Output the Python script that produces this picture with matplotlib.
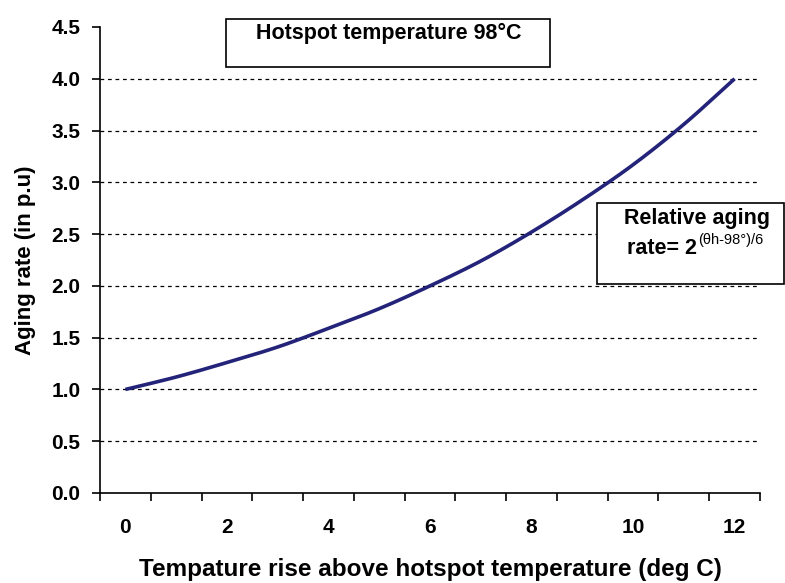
import matplotlib
matplotlib.use("Agg")
import matplotlib.pyplot as plt
from matplotlib.patches import Rectangle
import numpy as np

# Data
temp_rise = [0, 1, 2, 3, 4, 5, 6, 7, 8, 9, 10, 11, 12]
aging_rate = [1.0, 1.12, 1.26, 1.41, 1.59, 1.78, 2.0, 2.24, 2.52, 2.83, 3.17, 3.56, 4.0]
x_tick_labels = ["0", "2", "4", "6", "8", "10", "12"]
y_ticks = [0.0, 0.5, 1.0, 1.5, 2.0, 2.5, 3.0, 3.5, 4.0, 4.5]

plt.rcParams['font.family'] = ['Liberation Sans', 'DejaVu Sans']
plt.rcParams['font.weight'] = 'bold'


def catmull_rom(xs, ys, n=20):
    """Smooth rendering of the line through the given points (Excel-style smoothing)."""
    xs = np.asarray(xs, float)
    ys = np.asarray(ys, float)
    px = np.concatenate([[2 * xs[0] - xs[1]], xs, [2 * xs[-1] - xs[-2]]])
    py = np.concatenate([[2 * ys[0] - ys[1]], ys, [2 * ys[-1] - ys[-2]]])
    ox, oy = [], []
    t = np.linspace(0, 1, n, endpoint=False)
    for i in range(1, len(px) - 2):
        for P, out in ((px, ox), (py, oy)):
            p0, p1, p2, p3 = P[i - 1], P[i], P[i + 1], P[i + 2]
            out.extend(0.5 * ((2 * p1) + (-p0 + p2) * t + (2 * p0 - 5 * p1 + 4 * p2 - p3) * t ** 2
                              + (-p0 + 3 * p1 - 3 * p2 + p3) * t ** 3))
    ox.append(xs[-1])
    oy.append(ys[-1])
    return np.array(ox), np.array(oy)


fig = plt.figure(figsize=(7.85, 5.83), dpi=100)
ax = fig.add_axes([100/785, 1-493/583, (760-100)/785, (493-27)/583])

sx, sy = catmull_rom(temp_rise, aging_rate)
ax.plot(sx, sy, color='#23237a', lw=2.6, solid_capstyle='butt')

ax.set_xlim(-0.5, 12.5)
ax.set_ylim(0, 4.5)

# gridlines
for y in y_ticks[1:-1]:
    ax.axhline(y, color='black', lw=0.9, ls=(0, (3, 3)), zorder=0)

ax.spines['top'].set_visible(False)
ax.spines['right'].set_visible(False)
ax.spines['left'].set_linewidth(1.2)
ax.spines['bottom'].set_linewidth(1.2)

ax.set_yticks(y_ticks)
ax.set_yticklabels([f"{v:.1f}" for v in y_ticks], fontsize=15, fontweight='bold')
ax.tick_params(axis='y', direction='out', length=6, width=1.2, pad=8)

# category boundaries as major ticks, labels as minor ticks
ax.set_xticks(np.arange(-0.5, 13, 1.0))
ax.set_xticklabels([])
ax.tick_params(axis='x', which='major', direction='out', length=6, width=1.2)
label_pos = [int(s) for s in x_tick_labels]
ax.set_xticks(label_pos, minor=True)
ax.set_xticklabels(x_tick_labels, minor=True, fontsize=15, fontweight='bold')
ax.tick_params(axis='x', which='minor', length=0, pad=18)

ax.set_xlabel("Tempature rise above hotspot temperature (deg C)", fontsize=17.5,
              fontweight='bold', labelpad=15)
ax.set_ylabel("Aging rate (in p.u)", fontsize=16, fontweight='bold', labelpad=11)

W, H = 785, 583


def fx(px):
    return px / W


def fy(py):
    return 1 - py / H


# Title box
fig.patches.append(Rectangle((fx(226), fy(67)), fx(550) - fx(226), fy(19) - fy(67),
                             transform=fig.transFigure, fill=False, ec='black', lw=1.2))
fig.text(fx(389), fy(33), "Hotspot temperature 98°C", ha='center', va='center',
         fontsize=15.5, fontweight='bold')

# Formula box
fig.patches.append(Rectangle((fx(597), fy(284)), fx(784) - fx(597), fy(203) - fy(284),
                             transform=fig.transFigure, fill=True, fc='white', ec='black', lw=1.2,
                             zorder=5))
fig.text(fx(697), fy(218), "Relative aging", ha='center', va='center',
         fontsize=15.5, fontweight='bold', zorder=6)
fig.text(fx(697), fy(249), "rate= 2", ha='right', va='center',
         fontsize=15.5, fontweight='bold', zorder=6)
fig.text(fx(698), fy(240), "(θh-98°)/6", ha='left', va='center',
         fontsize=10.5, fontweight='normal', zorder=6)

fig.savefig("out.png", dpi=100)
